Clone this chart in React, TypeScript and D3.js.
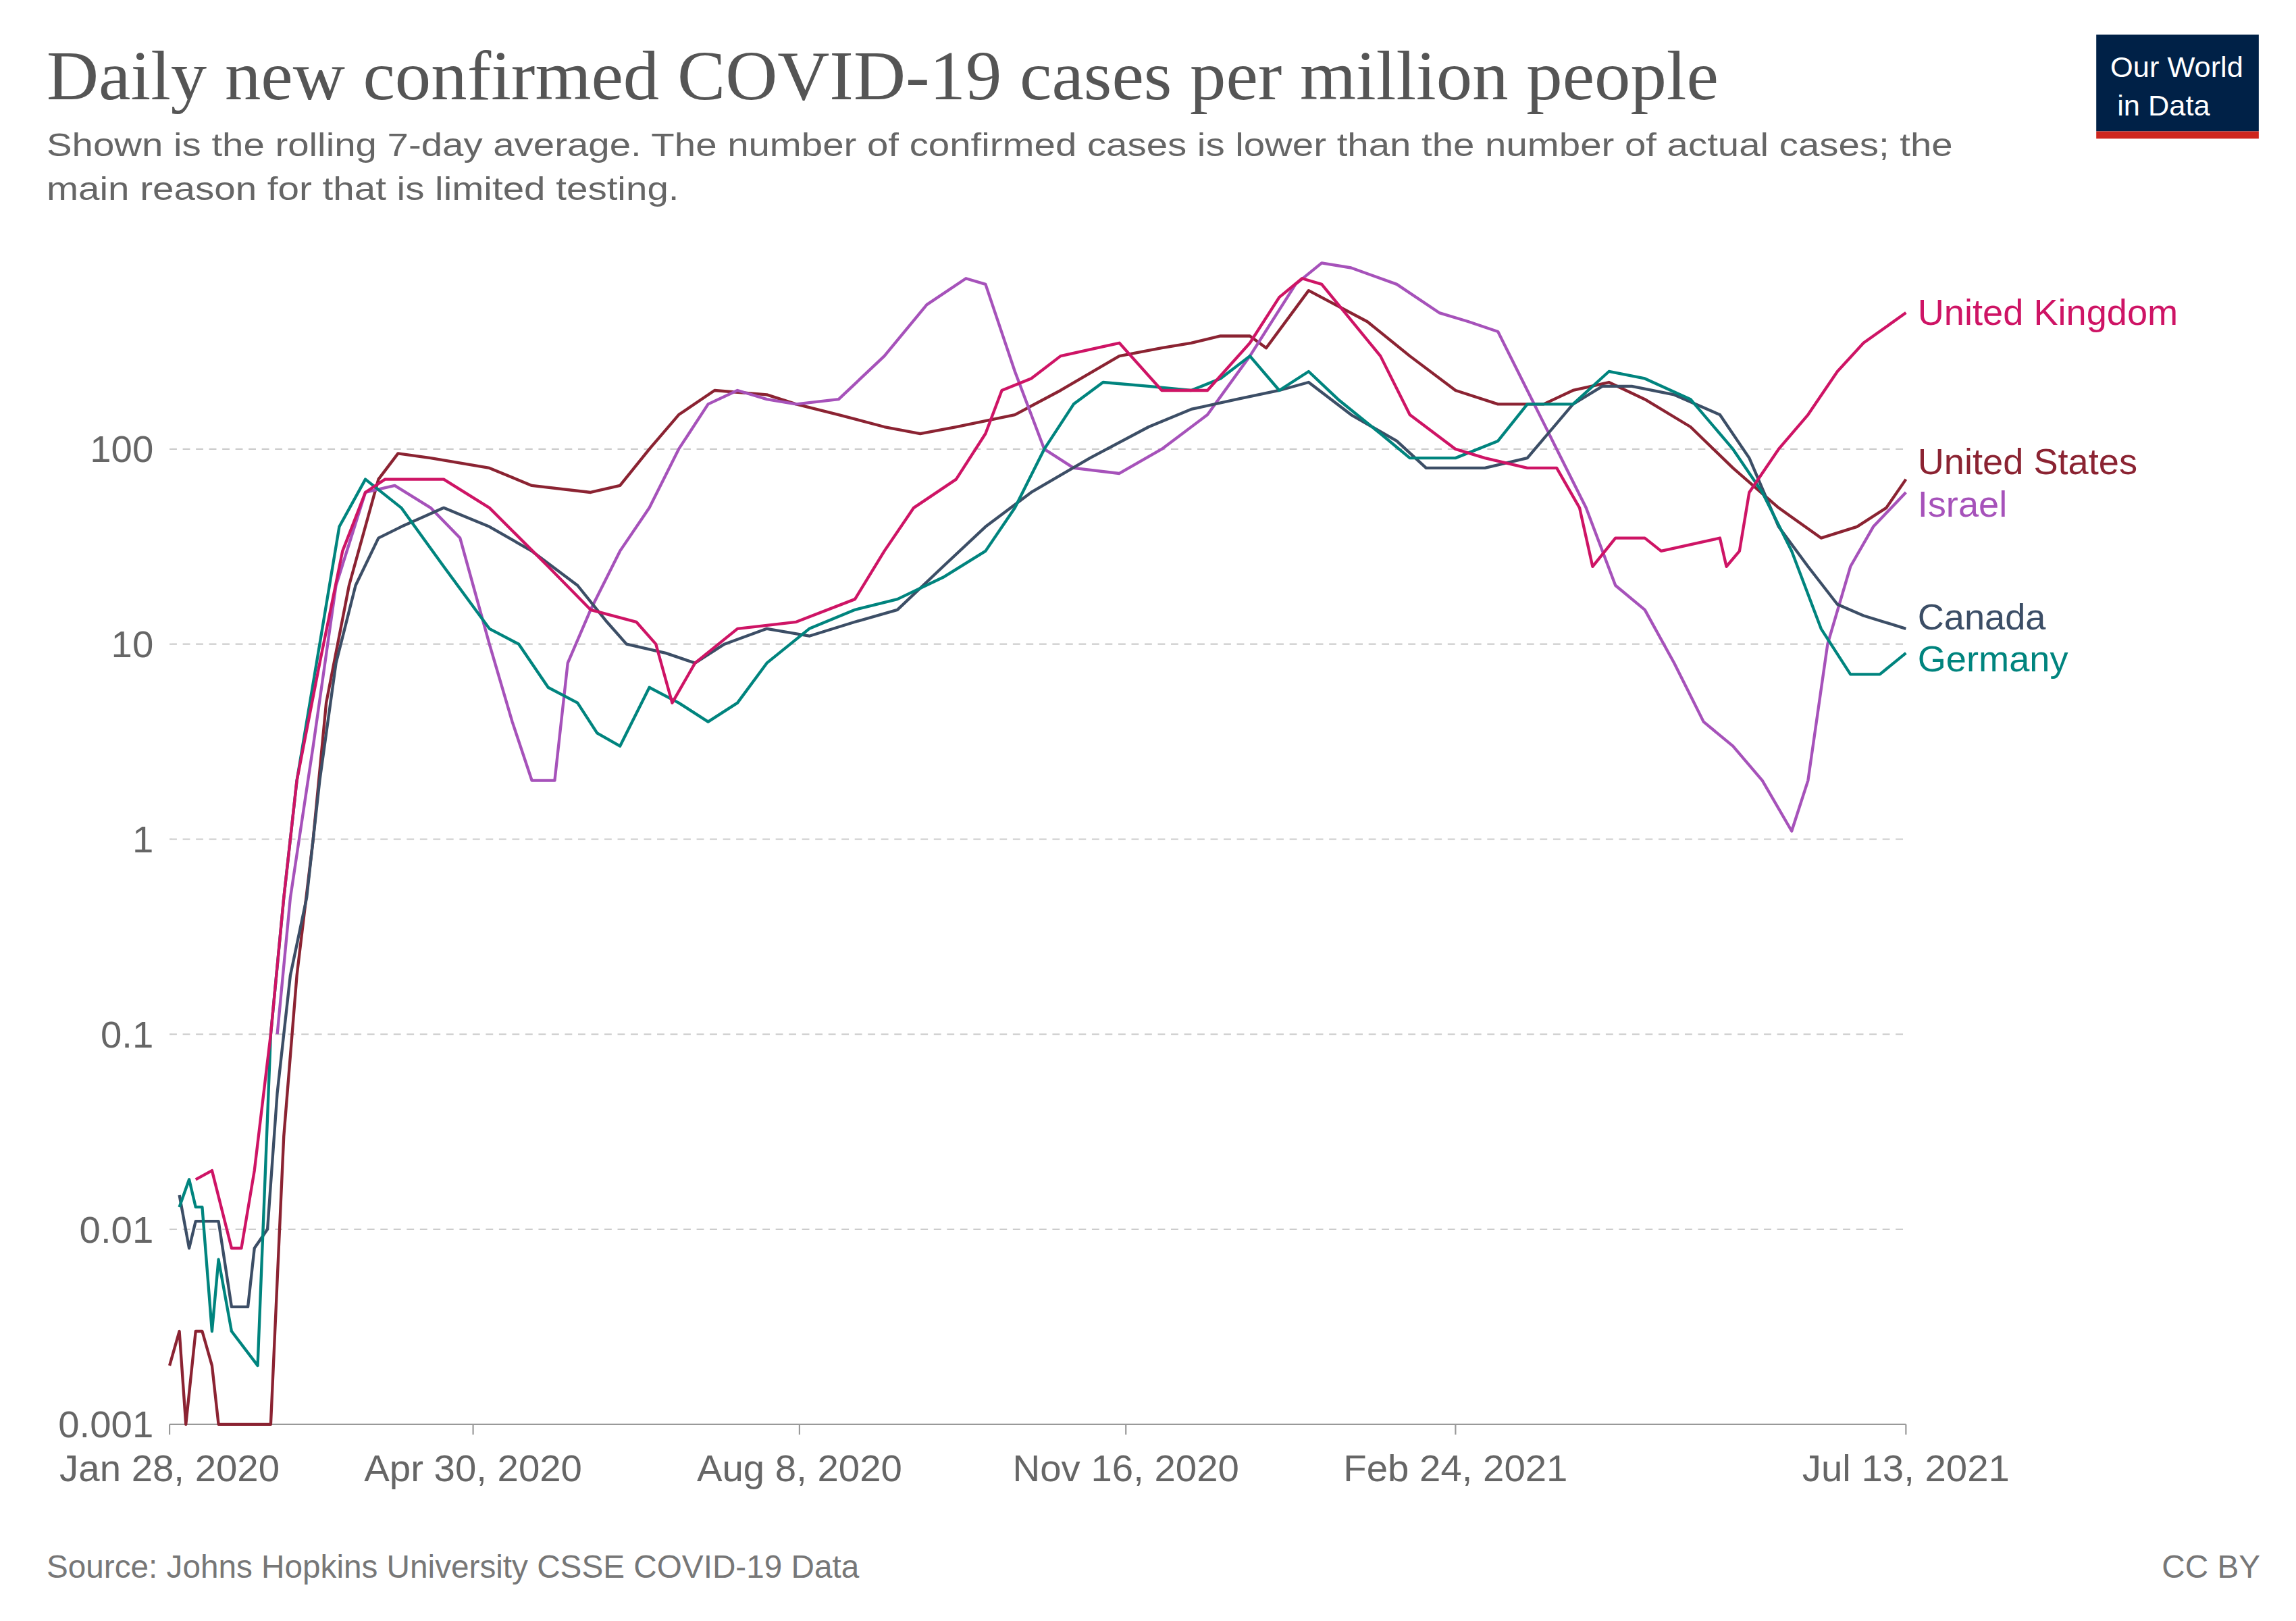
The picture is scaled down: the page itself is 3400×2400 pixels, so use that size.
import React from "react";
import * as d3 from "d3";

const BASE = new Date(2020, 0, 28);
const tickDays = [0, 93, 193, 293, 394, 532];
const tickLabels = ["Jan 28, 2020", "Apr 30, 2020", "Aug 8, 2020", "Nov 16, 2020", "Feb 24, 2021", "Jul 13, 2021"];
const yTicks = [0.001, 0.01, 0.1, 1, 10, 100];
const yTickLabels = ["0.001", "0.01", "0.1", "1", "10", "100"];

const ukDays = [8, 13, 19, 22, 26, 31, 35, 39, 46, 53, 60, 66, 84, 98, 116, 129, 143, 149, 154, 161, 174, 192, 210, 219, 228, 241, 250, 255, 264, 273, 291, 304, 318, 331, 340, 347, 353, 371, 380, 394, 403, 416, 425, 432, 436, 443, 452, 457, 475, 477, 481, 484, 493, 502, 511, 519, 532];
const ukVals = [0.018, 0.02, 0.008, 0.008, 0.02, 0.1, 0.5, 2, 8, 30, 60, 70, 70, 50, 25, 15, 13, 10, 5, 8, 12, 13, 17, 30, 50, 70, 120, 200, 230, 300, 350, 200, 200, 350, 600, 750, 700, 300, 150, 100, 90, 80, 80, 50, 25, 35, 35, 30, 35, 25, 30, 60, 100, 150, 250, 350, 500];

const usDays = [0, 3, 5, 8, 10, 13, 15, 31, 35, 39, 44, 48, 55, 64, 70, 80, 98, 111, 129, 138, 147, 156, 167, 183, 192, 205, 219, 230, 241, 259, 273, 291, 304, 313, 322, 331, 336, 349, 367, 380, 394, 407, 421, 430, 441, 452, 466, 479, 493, 506, 517, 526, 532];
const usVals = [0.002, 0.003, 0.001, 0.003, 0.003, 0.002, 0.001, 0.001, 0.03, 0.2, 1, 5, 20, 70, 95, 90, 80, 65, 60, 65, 100, 150, 200, 190, 170, 150, 130, 120, 130, 150, 200, 300, 330, 350, 380, 380, 330, 650, 450, 300, 200, 170, 170, 200, 220, 180, 130, 80, 50, 35, 40, 50, 70];

const ilDays = [33, 37, 44, 51, 60, 69, 80, 89, 98, 105, 111, 118, 122, 129, 138, 147, 156, 165, 174, 183, 192, 205, 219, 232, 244, 250, 259, 268, 277, 291, 304, 318, 331, 345, 353, 362, 376, 389, 398, 407, 416, 425, 434, 443, 452, 461, 470, 479, 488, 497, 502, 508, 515, 522, 532];
const ilVals = [0.1, 0.5, 3, 20, 60, 65, 50, 35, 10, 4, 2, 2, 8, 15, 30, 50, 100, 170, 200, 180, 170, 180, 300, 550, 750, 700, 250, 100, 80, 75, 100, 150, 300, 700, 900, 850, 700, 500, 450, 400, 200, 100, 50, 20, 15, 8, 4, 3, 2, 1.1, 2, 10, 25, 40, 60];

const caDays = [3, 6, 8, 15, 19, 24, 26, 30, 33, 37, 42, 46, 51, 57, 64, 71, 84, 98, 111, 125, 134, 140, 152, 161, 170, 183, 196, 210, 223, 237, 250, 264, 282, 300, 313, 327, 340, 349, 362, 376, 385, 394, 403, 416, 430, 439, 448, 461, 475, 484, 493, 502, 511, 519, 532];
const caVals = [0.015, 0.008, 0.011, 0.011, 0.004, 0.004, 0.008, 0.01, 0.05, 0.2, 0.5, 2, 8, 20, 35, 40, 50, 40, 30, 20, 13, 10, 9, 8, 10, 12, 11, 13, 15, 25, 40, 60, 90, 130, 160, 180, 200, 220, 150, 110, 80, 80, 80, 90, 170, 210, 210, 190, 150, 90, 40, 25, 16, 14, 12];

const deDays = [3, 6, 8, 10, 13, 15, 19, 27, 31, 35, 39, 46, 52, 60, 71, 84, 98, 107, 116, 125, 131, 138, 147, 156, 165, 174, 183, 196, 210, 223, 237, 250, 259, 268, 277, 286, 300, 313, 322, 331, 340, 349, 358, 371, 380, 394, 407, 416, 430, 441, 452, 466, 479, 488, 497, 506, 515, 524, 532];
const deVals = [0.013, 0.018, 0.013, 0.013, 0.003, 0.007, 0.003, 0.002, 0.1, 0.5, 2, 10, 40, 70, 50, 25, 12, 10, 6, 5, 3.5, 3, 6, 5, 4, 5, 8, 12, 15, 17, 22, 30, 50, 100, 170, 220, 210, 200, 230, 300, 200, 250, 180, 120, 90, 90, 110, 170, 170, 250, 230, 180, 100, 60, 30, 12, 7, 7, 9];

const series = [
  { name: "United States", days: usDays, vals: usVals, color: "#8b2332", ly: 312 },
  { name: "Israel", days: ilDays, vals: ilVals, color: "#a652ba", ly: 341 },
  { name: "Canada", days: caDays, vals: caVals, color: "#3c4e66", ly: 418 },
  { name: "Germany", days: deDays, vals: deVals, color: "#00847e", ly: 447 },
  { name: "United Kingdom", days: ukDays, vals: ukVals, color: "#ce1465", ly: 210 },
];

export default function App() {
  const W = 1568, H = 1107;
  const x = d3.scaleTime()
    .domain([BASE, d3.timeDay.offset(BASE, 532)])
    .range([112, 1298]);
  const y = d3.scaleLog().domain([0.001, 100]).range([969, 303]);
  const line = d3.line<[number, number]>()
    .x((d) => x(d3.timeDay.offset(BASE, d[0])))
    .y((d) => y(d[1]));
  const sans = "'Liberation Sans', Arial, sans-serif";
  return (
    <svg width={3400} height={2400} viewBox={`0 0 ${W} ${H}`} style={{ display: "block", background: "#fff" }}>
      <rect width={W} height={H} fill="#fff" />
      <text x={28} y={64} fontFamily="'Liberation Serif', serif" fontSize={48} fill="#555" textLength={1142} lengthAdjust="spacingAndGlyphs">Daily new confirmed COVID-19 cases per million people</text>
      <text x={28} y={103} fontFamily={sans} fontSize={22.5} fill="#666" textLength={1302} lengthAdjust="spacingAndGlyphs">Shown is the rolling 7-day average. The number of confirmed cases is lower than the number of actual cases; the</text>
      <text x={28} y={133} fontFamily={sans} fontSize={22.5} fill="#666" textLength={432} lengthAdjust="spacingAndGlyphs">main reason for that is limited testing.</text>
      <rect x={1428} y={20} width={111} height={66} fill="#002147" />
      <rect x={1428} y={86} width={111} height={5} fill="#ce261e" />
      <text x={1483} y={49} textAnchor="middle" fontFamily={sans} fontSize={20} fill="#fff">Our World</text>
      <text x={1474} y={75} textAnchor="middle" fontFamily={sans} fontSize={20} fill="#fff">in Data</text>
      {yTicks.map((t, i) => (
        <g key={t}>
          {i > 0 && <line x1={112} x2={1298} y1={y(t)} y2={y(t)} stroke="#ccc" strokeDasharray="5,4" />}
          <text x={101} y={y(t) + 9} textAnchor="end" fontFamily={sans} fontSize={26} fill="#666">{yTickLabels[i]}</text>
        </g>
      ))}
      <line x1={112} x2={1298} y1={969} y2={969} stroke="#999" />
      {tickDays.map((d, i) => {
        const px = x(d3.timeDay.offset(BASE, d));
        return (
          <g key={d}>
            <line x1={px} x2={px} y1={969} y2={976} stroke="#999" />
            <text x={px} y={1008} textAnchor="middle" fontFamily={sans} fontSize={26} fill="#666">{tickLabels[i]}</text>
          </g>
        );
      })}
      {series.map((s) => (
        <g key={s.name}>
          <path d={line(s.days.map((d, i) => [d, s.vals[i]] as [number, number])) || ""} fill="none" stroke={s.color} strokeWidth={2} strokeLinejoin="round" />
          <text x={1306} y={s.ly + 8} fontFamily={sans} fontSize={25} fill={s.color}>{s.name}</text>
        </g>
      ))}
      <text x={28} y={1074} fontFamily={sans} fontSize={22} fill="#777">Source: Johns Hopkins University CSSE COVID-19 Data</text>
      <text x={1540} y={1074} textAnchor="end" fontFamily={sans} fontSize={22} fill="#777">CC BY</text>
    </svg>
  );
}
